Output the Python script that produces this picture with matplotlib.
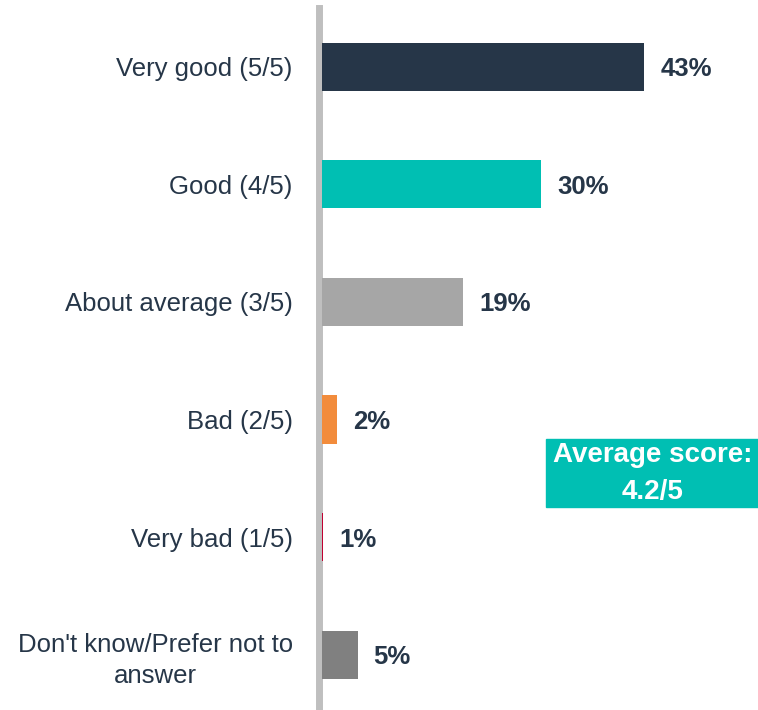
import matplotlib.pyplot as plt
from matplotlib.patches import Rectangle

plt.rcParams['font.family'] = ['Liberation Sans', 'DejaVu Sans']

categories = ['Very good (5/5)', 'Good (4/5)', 'About average (3/5)', 'Bad (2/5)',
              'Very bad (1/5)', "Don't know/Prefer not to\nanswer"]
shares = [43.4, 29.5, 19.0, 2.0, 0.15, 4.8]  # bar lengths
share_labels = ['43%', '30%', '19%', '2%', '1%', '5%']
colors = ['#263648', '#00BFB3', '#A6A6A6', '#F28C3C', '#C00030', '#808080']
avg_text = 'Average score:\n4.2/5'

TEXT = '#263648'

fig = plt.figure(figsize=(7.58, 7.10), dpi=100)
ax = fig.add_axes([322 / 758, 0.0, 1 - 322 / 758, 702 / 710])

y = list(range(len(categories)))
bars = ax.barh(y, shares, height=0.41, color=colors, zorder=3)

for bar, lab in zip(bars, share_labels):
    ax.annotate(lab, (bar.get_width(), bar.get_y() + bar.get_height() / 2),
                xytext=(11.5, 0), textcoords='offset points',
                ha='left', va='center_baseline', fontsize=18.5, fontweight='bold', color=TEXT)

# category labels drawn as text so the two-line one can be centred
for yi, cat in zip(y, categories):
    ax.annotate(cat, (0, yi), xycoords=('axes fraction', 'data'),
                xytext=(-21, 0), textcoords='offset points',
                ha='right', va='center_baseline', multialignment='center',
                linespacing=1.35, fontsize=18.5, color=TEXT)

ax.set_yticks([])
ax.set_xticks([])
ax.set_xlim(0, 58.7)
ax.set_ylim(5.47, -0.50)

for side in ['top', 'right', 'bottom']:
    ax.spines[side].set_visible(False)
ax.spines['left'].set_color('#BFBFBF')
ax.spines['left'].set_linewidth(5)
ax.spines['left'].set_position(('outward', 2.5))

# average score box
fig.patches.append(Rectangle((546 / 758, 1 - 507 / 710), 212 / 758, 68 / 710,
                             transform=fig.transFigure, color='#00BFB3', zorder=5))
fig.text(653 / 758, 1 - 474 / 710, avg_text, ha='center', va='center',
         fontsize=20, fontweight='bold', color='white', linespacing=1.55, zorder=6)

fig.savefig('out.png', dpi=100)
